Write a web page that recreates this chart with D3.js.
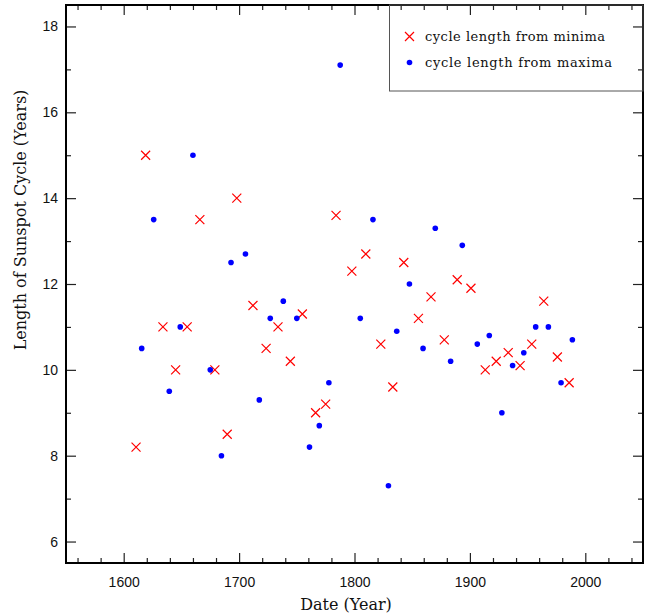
<!DOCTYPE html>
<html>
<head>
<meta charset="utf-8">
<script src="https://cdn.jsdelivr.net/npm/d3@7"></script>
<style>
  body { margin: 0; background: #fff; }
</style>
</head>
<body>
<div id="chart"></div>
<script>
const width = 665;
const height = 615;

// cycle length from minima: [date, length]
const minYears = [1610.7, 1619, 1634, 1645, 1655, 1666, 1679, 1689.7, 1698, 1712,
  1723.4, 1733.7, 1744.4, 1754.8, 1766.3, 1775, 1784, 1797.7, 1809.8, 1822.8,
  1833.2, 1842.7, 1855.4, 1866.3, 1877.8, 1889, 1900.9, 1913.3, 1922.8, 1933.2,
  1943.5, 1953.6, 1964, 1975.8, 1986];
const minLengths = [8.2, 15.0, 11.0, 10.0, 11.0, 13.5, 10.0, 8.5, 14.0, 11.5,
  10.5, 11.0, 10.2, 11.3, 9.0, 9.2, 13.6, 12.3, 12.7, 10.6,
  9.6, 12.5, 11.2, 11.7, 10.7, 12.1, 11.9, 10.0, 10.2, 10.4,
  10.1, 10.6, 11.6, 10.3, 9.7];

// cycle length from maxima
const maxYears = [1615.6, 1626, 1639.5, 1649, 1660, 1675, 1684.7, 1693, 1705.5, 1717.5,
  1727, 1738.3, 1750, 1761, 1769.5, 1777.8, 1787.6, 1805, 1816, 1829.4,
  1836.6, 1847.6, 1859.4, 1870, 1883.3, 1893.4, 1906.4, 1916.8, 1927.7, 1937,
  1946.7, 1957, 1968, 1979, 1988.8];
const maxLengths = [10.5, 13.5, 9.5, 11.0, 15.0, 10.0, 8.0, 12.5, 12.7, 9.3,
  11.2, 11.6, 11.2, 8.2, 8.7, 9.7, 17.1, 11.2, 13.5, 7.3,
  10.9, 12.0, 10.5, 13.3, 10.2, 12.9, 10.6, 10.8, 9.0, 10.1,
  10.4, 11.0, 11.0, 9.7, 10.7];

const xMajor = [1600, 1700, 1800, 1900, 2000];
const yMajor = [6, 8, 10, 12, 14, 16, 18];

const legendLabels = ["cycle length from minima", "cycle length from maxima"];

const plotLeft = 66, plotRight = 643, plotTop = 5, plotBottom = 563;

const x = d3.scaleLinear().domain([1550, 2050]).range([plotLeft, plotRight]);
const y = d3.scaleLinear().domain([5.5, 18.5]).range([plotBottom, plotTop]);

const svg = d3.select("#chart").append("svg")
  .attr("width", width)
  .attr("height", height);

const xMinor = d3.range(1560, 2050, 20).filter(d => !xMajor.includes(d));
const yMinor = d3.range(6, 19, 1).filter(d => !yMajor.includes(d));

// ticks on all four sides, pointing inward
function tickGroup(axis, transform) {
  const g = svg.append("g").attr("transform", transform).call(axis);
  g.select(".domain").remove();
  g.selectAll(".tick line").attr("stroke", "#222").attr("stroke-width", 1.2);
  g.selectAll(".tick text")
    .attr("fill", "#111")
    .style("font-family", "'Liberation Sans', Arial, sans-serif")
    .style("font-size", "14px");
  return g;
}

tickGroup(d3.axisBottom(x).tickValues(xMajor).tickSizeInner(-10).tickPadding(14).tickFormat(d3.format("d")),
  `translate(0,${plotBottom})`);
tickGroup(d3.axisBottom(x).tickValues(xMinor).tickSizeInner(-5).tickFormat(""),
  `translate(0,${plotBottom})`);
tickGroup(d3.axisTop(x).tickValues(xMajor).tickSizeInner(-10).tickFormat(""),
  `translate(0,${plotTop})`);
tickGroup(d3.axisTop(x).tickValues(xMinor).tickSizeInner(-5).tickFormat(""),
  `translate(0,${plotTop})`);

tickGroup(d3.axisLeft(y).tickValues(yMajor).tickSizeInner(-10).tickPadding(8).tickFormat(d3.format("d")),
  `translate(${plotLeft},0)`);
tickGroup(d3.axisLeft(y).tickValues(yMinor).tickSizeInner(-5).tickFormat(""),
  `translate(${plotLeft},0)`);
tickGroup(d3.axisRight(y).tickValues(yMajor).tickSizeInner(-10).tickFormat(""),
  `translate(${plotRight},0)`);
tickGroup(d3.axisRight(y).tickValues(yMinor).tickSizeInner(-5).tickFormat(""),
  `translate(${plotRight},0)`);

// frame
svg.append("rect")
  .attr("x", plotLeft).attr("y", plotTop)
  .attr("width", plotRight - plotLeft).attr("height", plotBottom - plotTop)
  .attr("fill", "none")
  .attr("stroke", "#000")
  .attr("stroke-width", 2);

// axis titles
svg.append("text")
  .attr("x", 346).attr("y", 610)
  .attr("text-anchor", "middle")
  .style("font-family", "'DejaVu Serif', serif")
  .style("font-size", "16px")
  .attr("fill", "#111")
  .text("Date (Year)");

svg.append("text")
  .attr("transform", "translate(26,220) rotate(-90)")
  .attr("text-anchor", "middle")
  .style("font-family", "'DejaVu Serif', serif")
  .style("font-size", "16px")
  .attr("fill", "#111")
  .text("Length of Sunspot Cycle (Years)");

// crosses for minima
const s = 4.5;
const cross = `M${-s},${-s}L${s},${s}M${-s},${s}L${s},${-s}`;

const minima = minYears.map((d, i) => ({ year: d, len: minLengths[i] }));
const maxima = maxYears.map((d, i) => ({ year: d, len: maxLengths[i] }));

svg.append("g")
  .selectAll("path")
  .data(minima)
  .join("path")
  .attr("d", cross)
  .attr("transform", d => `translate(${x(d.year)},${y(d.len)})`)
  .attr("stroke", "#ff0000")
  .attr("stroke-width", 1.2)
  .attr("fill", "none");

svg.append("g")
  .selectAll("circle")
  .data(maxima)
  .join("circle")
  .attr("cx", d => x(d.year))
  .attr("cy", d => y(d.len))
  .attr("r", 2.8)
  .attr("fill", "#0000ff");

// legend
const legend = svg.append("g");
legend.append("rect")
  .attr("x", 389.5).attr("y", plotTop)
  .attr("width", plotRight - 389.5).attr("height", 91 - plotTop)
  .attr("fill", "none")
  .attr("stroke", "#555")
  .attr("stroke-width", 1);

legend.append("path")
  .attr("d", cross)
  .attr("transform", "translate(409.5,36.5)")
  .attr("stroke", "#ff0000")
  .attr("stroke-width", 1.2)
  .attr("fill", "none");

legend.append("circle")
  .attr("cx", 409.5).attr("cy", 62.5).attr("r", 2.8)
  .attr("fill", "#0000ff");

legend.selectAll("text.lbl")
  .data(legendLabels)
  .join("text")
  .attr("class", "lbl")
  .attr("x", 425)
  .attr("y", (d, i) => 41 + i * 26)
  .attr("textLength", (d, i) => i === 0 ? 180 : 187)
  .style("font-family", "'DejaVu Serif', serif")
  .style("font-size", "13px")
  .attr("fill", "#111")
  .text(d => d);
</script>
</body>
</html>
